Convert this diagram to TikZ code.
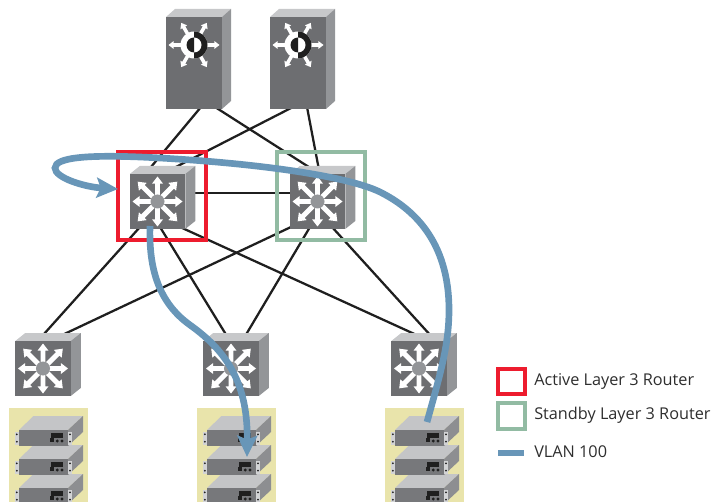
\documentclass[tikz,border=0pt]{standalone}
\usepackage{fontspec}
\setmainfont{Open Sans}
\usetikzlibrary{calc,arrows.meta}
\definecolor{frontc}{HTML}{6D6E71}
\definecolor{topc}{HTML}{C7C8CA}
\definecolor{sidec}{HTML}{939598}
\definecolor{srvfront}{HTML}{77787B}
\definecolor{srvtop}{HTML}{C4C5C7}
\definecolor{srvside}{HTML}{8D8E91}
\definecolor{yel}{HTML}{E9E4AB}
\definecolor{redc}{HTML}{ED1C2E}
\definecolor{grnc}{HTML}{92BBA3}
\definecolor{bluec}{HTML}{6896B8}
\definecolor{linec}{HTML}{1F1F1F}
\tikzset{
  anchorbox/.style={rectangle,inner sep=0pt,outer sep=0pt},
  link/.style={draw=linec,line width=1.7pt},
  framebox/.style={anchorbox,draw,line width=3pt,minimum width=66pt,minimum height=66pt},
  legendbox/.style={anchorbox,draw,line width=3pt,minimum width=20pt,minimum height=19pt},
  vlan/.style={draw=bluec,line width=5pt},
  vlanarrow/.style={vlan,-{Stealth[length=16pt,width=15pt,inset=3pt]}},
  legendtext/.style={anchor=west,inner sep=0pt,text=black!82,font=\fontsize{12.2}{14}\selectfont},
  yellowbox/.style={anchorbox,fill=yel,minimum width=59.25pt,minimum height=71pt}
}
% arrow pointing along +x from r0 to r1, in local px units
\newcommand{\devarrow}[4]{%
  \fill[white,rotate=#1] (#2,-#4*0.45) -- (#3-#4*1.3,-#4*0.45) -- (#3-#4*1.3,-#4) -- (#3,0) -- (#3-#4*1.3,#4) -- (#3-#4*1.3,#4*0.45) -- (#2,#4*0.45) -- cycle;}
% box: cx cy halfw halfh dx dy
\newcommand{\boxthree}[6]{%
  \fill[topc] (#1-#3,#2-#4) -- ++(#5,-#6) -- ++(2*#3,0) -- ++(-#5,#6) -- cycle;
  \fill[sidec] (#1+#3,#2-#4) -- ++(#5,-#6) -- ++(0,2*#4) -- ++(-#5,#6) -- cycle;
  \fill[frontc] (#1-#3,#2-#4) rectangle (#1+#3,#2+#4);}
\newcommand{\switchdev}[2]{%
  \boxthree{#1}{#2}{27.75}{27.5}{10}{8}
  \begin{scope}[shift={(#1,#2)}]
    \foreach \ang in {0,90,180,270} {\devarrow{\ang}{5}{25}{5.5}}
    \foreach \ang in {45,135,225,315} {\devarrow{\ang}{5}{28}{5.5}}
    \fill[sidec] (0,0) circle (7);
  \end{scope}}
\newcommand{\towerdev}[2]{%
  \boxthree{#1}{#2}{28}{46}{9}{8}
  \begin{scope}[shift={(#1,#2-18)}]
    \foreach \ang in {0,60,120,180,240,300} {\devarrow{\ang}{10}{25.5}{3.9}}
    \fill[white] (0,0) circle (13.5);
    \fill[linec] (0,13.5) arc (90:-90:13.5) -- cycle;
    \fill[white] (0,7.5) arc (90:-90:7.5) -- cycle;
    \fill[linec] (0,7.5) arc (90:270:7.5) -- cycle;
  \end{scope}}
% server: x,y of front top-left
\newcommand{\serverdev}[2]{%
  \begin{scope}[shift={(#1,#2)}]
    \fill[srvtop] (0,0) -- (14.5,-14) -- (64,-14) -- (49,0) -- cycle;
    \fill[srvside] (49,0) -- (64,-14) -- (64,2) -- (49,16) -- cycle;
    \fill[srvfront] (0,0) rectangle (49,16);
    \fill[topc!80!white] (-4.3,1.5) rectangle (0,14.5);
    \fill[topc!80!white] (49,1.5) rectangle (53,14.5);
    \fill[linec] (-2.2,4.3) circle (1) (-2.2,11.7) circle (1) (51,4.3) circle (1) (51,11.7) circle (1);
    \fill[linec] (32,3.3) rectangle (44,7.7);
    \fill[linec] (31,8.2) rectangle (35.3,12);
    \fill[linec] (38.3,11) circle (1.6) (43,11) circle (1.6);
  \end{scope}}
\newcommand{\stack}[1]{%
  \serverdev{#1}{488}\serverdev{#1}{459}\serverdev{#1}{430}}
\begin{document}
\begin{tikzpicture}[x=0.75pt,y=-0.75pt]
\useasboundingbox (0,0) rectangle (717,502);
\clip (0,0) rectangle (717,502);
% named anchors for devices
\node[anchorbox,minimum width=42pt,minimum height=69pt] (t1) at (194,63) {};
\node[anchorbox,minimum width=42pt,minimum height=69pt] (t2) at (298,63) {};
\node[anchorbox,minimum width=41.6pt,minimum height=41.25pt] (a) at (157.5,201.5) {};
\node[anchorbox,minimum width=41.6pt,minimum height=41.25pt] (s) at (317.5,201.5) {};
\node[anchorbox,minimum width=41.6pt,minimum height=41.25pt] (b1) at (43,368.5) {};
\node[anchorbox,minimum width=41.6pt,minimum height=41.25pt] (b2) at (231,368.5) {};
\node[anchorbox,minimum width=41.6pt,minimum height=41.25pt] (b3) at (419,368.5) {};
% links
\draw[link] ($(t1.south)+(7,-2)$) -- ($(a.north)+(-9,-4)$);
\draw[link] ($(t1.south)+(21,-2)$) -- ($(s.north)+(-4,-4)$);
\draw[link] ($(t2.south)+(-5,-2)$) -- ($(a.north)+(12.5,-4)$);
\draw[link] ($(t2.south)+(9,-2)$) -- ($(s.north)+(1.5,-4)$);
\draw[link] ($(a.east)+(8,-8.5)$) -- ($(s.west)+(2,-8.5)$);
\draw[link] ($(a.south)+(-17.5,-2)$) -- ($(b1.north)+(-1.7,-4)$);
\draw[link] ($(s.south)+(-26.5,-2)$) -- ($(b1.north)+(15,-4)$);
\draw[link] ($(a.south)+(2.5,-2)$) -- ($(b2.north)+(-3.5,-4)$);
\draw[link] ($(s.south)+(-7.5,-2)$) -- ($(b2.north)+(13.6,-4)$);
\draw[link] ($(a.south)+(22.5,-2)$) -- ($(b3.north)+(2,-4)$);
\draw[link] ($(s.south)+(14.5,-2)$) -- ($(b3.north)+(13,-4)$);
% layer 3 frames
\node[framebox,draw=redc] (activeframe) at (162,196) {};
\node[framebox,draw=grnc] (standbyframe) at (321,196) {};
% devices
\towerdev{194}{63}
\towerdev{298}{63}
\switchdev{157.5}{201.5}
\switchdev{317.5}{201.5}
\switchdev{43}{368.5}
\switchdev{231}{368.5}
\switchdev{419}{368.5}
% server groups
\node[yellowbox] (y1) at (48.5,455.5) {};
\node[yellowbox] (y2) at (236.5,455.5) {};
\node[yellowbox] (y3) at (424.5,455.5) {};
\stack{19}
\stack{207}
\stack{395}
% VLAN paths
\coordinate (srvsrc) at (427,422);
\coordinate (adst) at (118,189);
\coordinate (asrc) at (150,226);
\coordinate (srvdst) at (247,457);
\draw[vlanarrow] (srvsrc) .. controls (440,375) and (449,345) .. (449,310)
  .. controls (449,240) and (412,208) .. (380,192)
  .. controls (345,175) and (250,163) .. (160,158)
  .. controls (90,154) and (55,157) .. (55,168)
  .. controls (55,178) and (85,187) .. (adst);
\draw[vlanarrow] (asrc) .. controls (149,262) and (155,300) .. (190,325)
  .. controls (228,352) and (248,385) .. (srvdst);
% legend
\node[legendbox,draw=redc] (lg1) at (511.5,381.5) {};
\node[legendbox,draw=grnc] (lg2) at (511.5,416) {};
\coordinate (lg3a) at (498,453);
\coordinate (lg3b) at (524,453);
\draw[draw=bluec,line width=3.8pt] (lg3a) -- (lg3b);
\node[legendtext] (t1txt) at (534,381.5) {Active Layer 3 Router};
\node[legendtext] (t2txt) at (534,415.5) {Standby Layer 3 Router};
\node[legendtext] (t3txt) at (534,451.5) {VLAN 100};
\end{tikzpicture}
\end{document}
